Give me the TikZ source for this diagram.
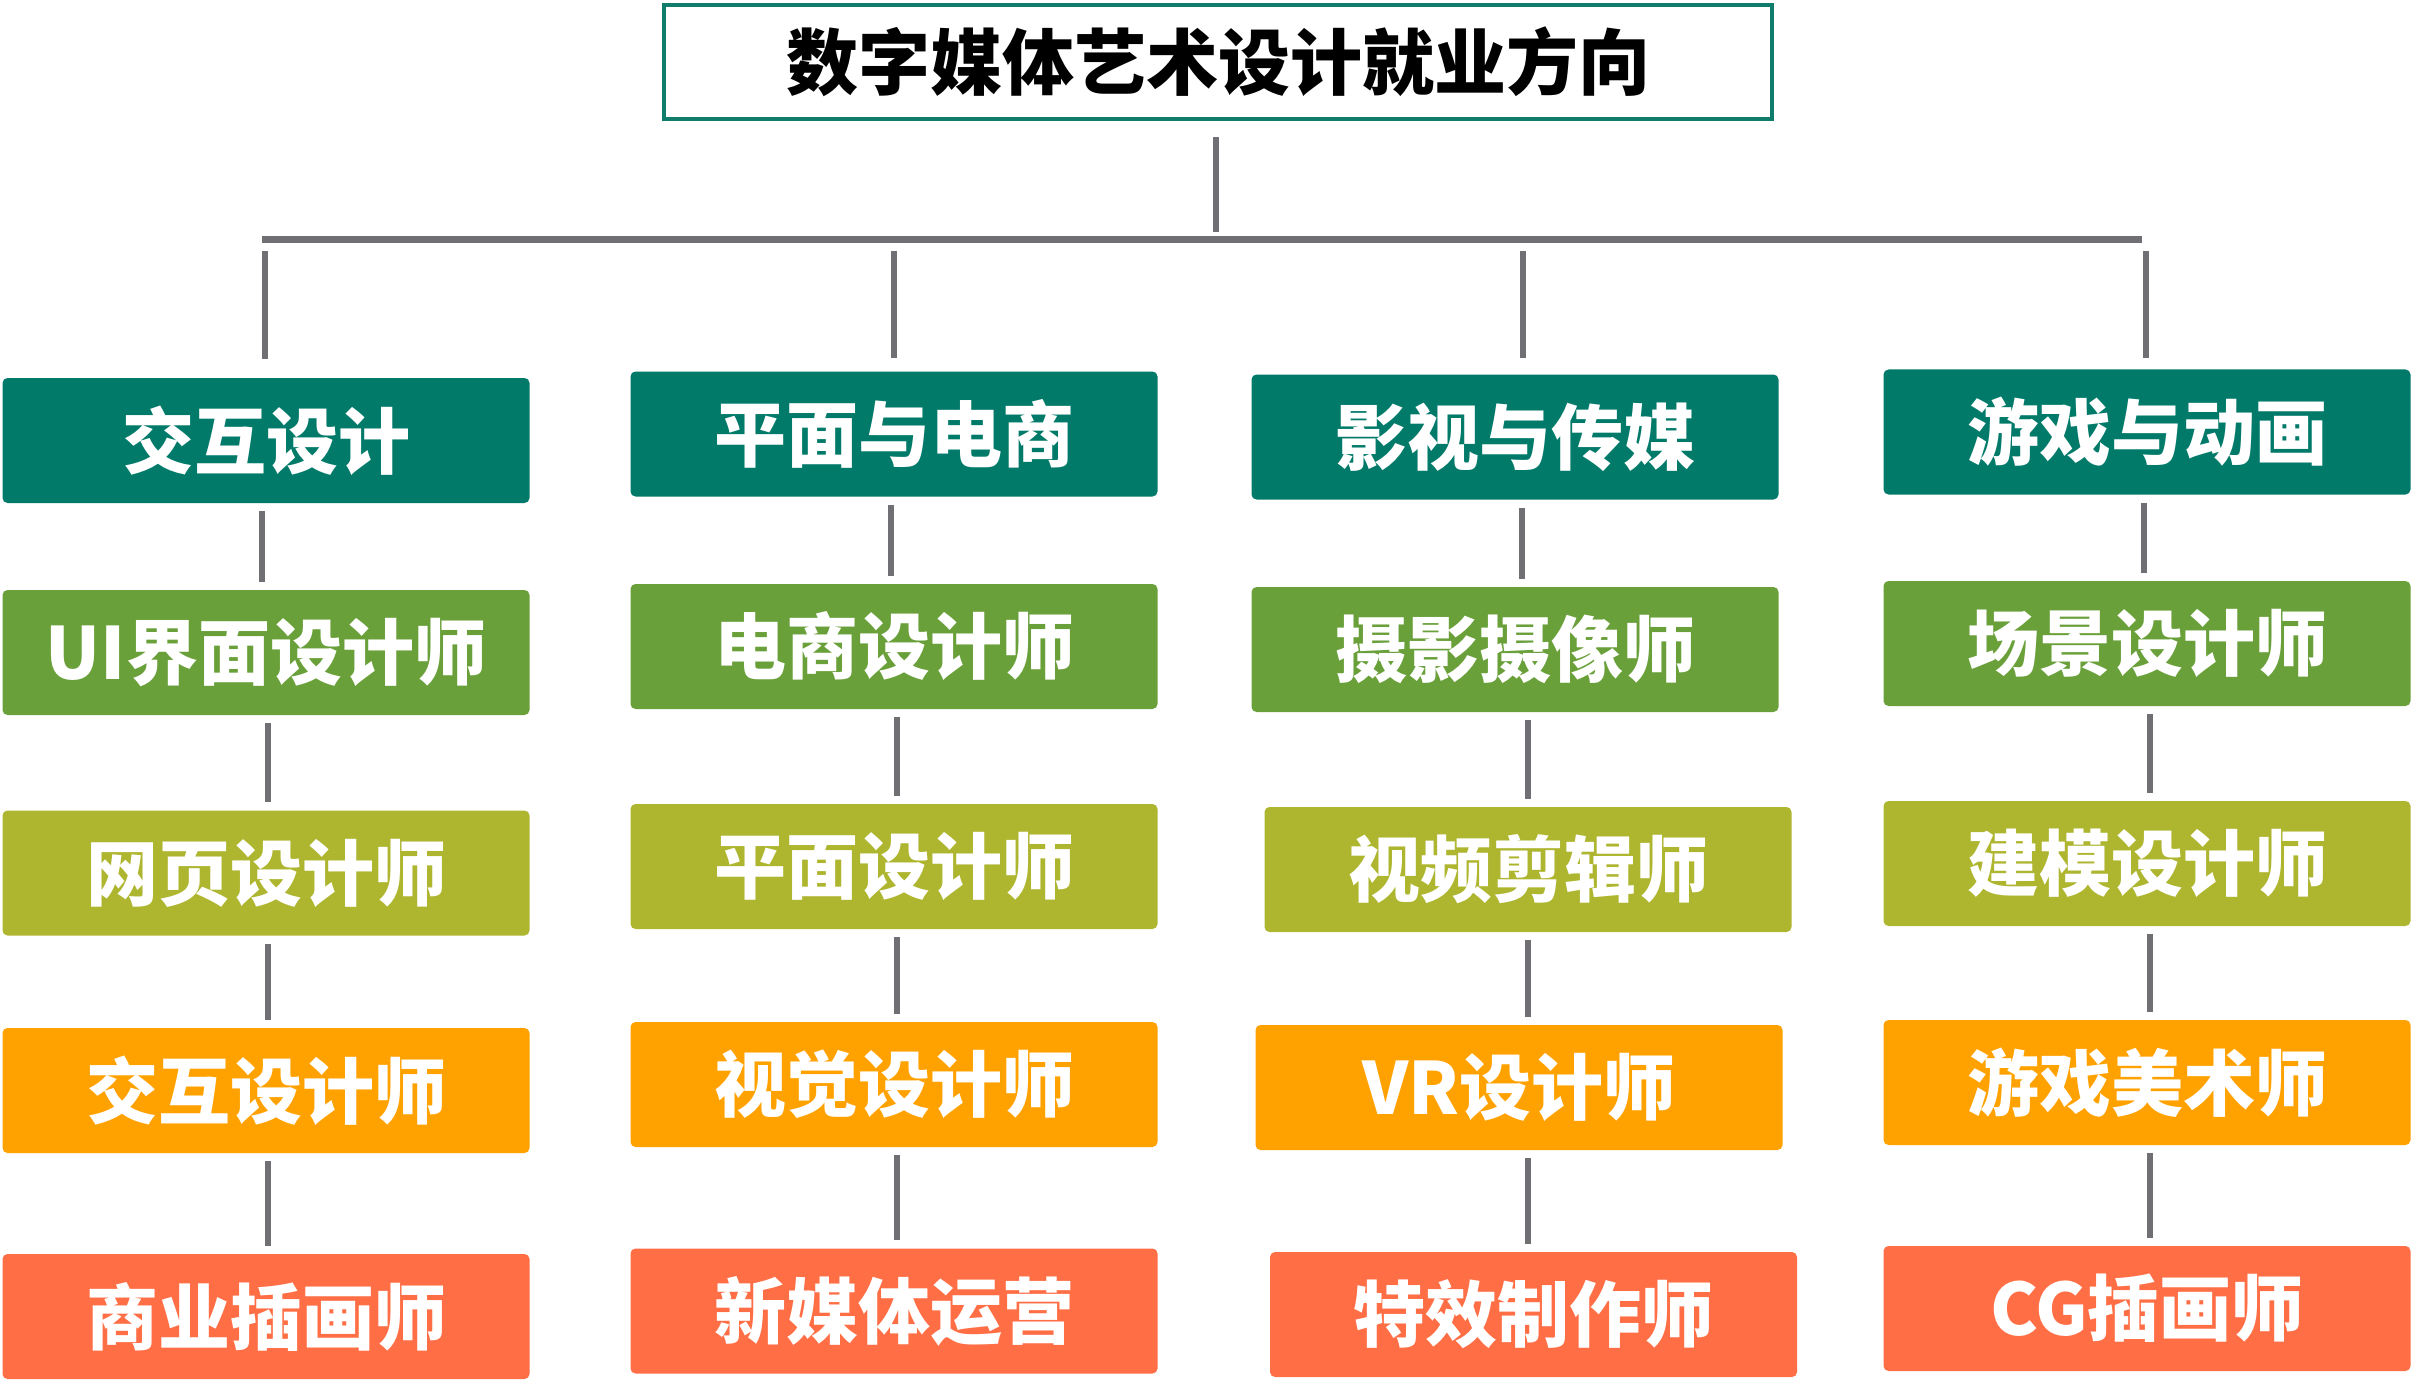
\documentclass[tikz,border=0pt]{standalone}
\usepackage{fontspec}
\newfontfamily\cjk{Noto Sans CJK SC}
\definecolor{cTeal}{RGB}{2,122,106}
\definecolor{cGreen}{RGB}{106,160,58}
\definecolor{cOlive}{RGB}{174,181,46}
\definecolor{cOrange}{RGB}{255,162,0}
\definecolor{cCoral}{RGB}{255,110,69}
\definecolor{cLine}{RGB}{112,112,116}
\definecolor{cBorder}{RGB}{16,124,108}
\tikzset{
  box/.style={rectangle, rounded corners=5pt, inner sep=0pt,
    minimum width=527pt, minimum height=125pt, text=white,
    font=\cjk\bfseries\fontsize{72pt}{72pt}\selectfont},
  lvA/.style={box, fill=cTeal},
  lvB/.style={box, fill=cGreen},
  lvC/.style={box, fill=cOlive},
  lvD/.style={box, fill=cOrange},
  lvE/.style={box, fill=cCoral},
  titlebox/.style={rectangle, draw=cBorder, line width=4.5pt, fill=white,
    inner sep=0pt, minimum width=1108pt, minimum height=114pt, text=black,
    font=\cjk\bfseries\fontsize{72pt}{72pt}\selectfont},
  conn/.style={draw=cLine, line width=6.5pt, shorten <=8pt, shorten >=8pt},
  bus/.style={draw=cLine, line width=7pt}
}
\begin{document}
\begin{tikzpicture}[x=1pt,y=-1pt]
\useasboundingbox (0,0) rectangle (2413,1380);

% title
\node[titlebox] (title) at (1218,62) {数字媒体艺术设计就业方向};

% column 1
\node[lvA] (r1c1) at (266,440.5) {交互设计};
\node[lvB] (r2c1) at (266,652.5) {UI界面设计师};
\node[lvC] (r3c1) at (266,873) {网页设计师};
\node[lvD] (r4c1) at (266,1090.5) {交互设计师};
\node[lvE] (r5c1) at (266,1316.5) {商业插画师};
% column 2
\node[lvA] (r1c2) at (894,434) {平面与电商};
\node[lvB] (r2c2) at (894,646.5) {电商设计师};
\node[lvC] (r3c2) at (894,866.5) {平面设计师};
\node[lvD] (r4c2) at (894,1084.5) {视觉设计师};
\node[lvE] (r5c2) at (894,1311) {新媒体运营};
% column 3
\node[lvA] (r1c3) at (1515,437) {影视与传媒};
\node[lvB] (r2c3) at (1515,649.5) {摄影摄像师};
\node[lvC] (r3c3) at (1528,869.5) {视频剪辑师};
\node[lvD] (r4c3) at (1519,1087.5) {VR设计师};
\node[lvE] (r5c3) at (1533.5,1314.5) {特效制作师};
% column 4
\node[lvA] (r1c4) at (2147,432) {游戏与动画};
\node[lvB] (r2c4) at (2147,643.5) {场景设计师};
\node[lvC] (r3c4) at (2147,863.5) {建模设计师};
\node[lvD] (r4c4) at (2147,1082.5) {游戏美术师};
\node[lvE] (r5c4) at (2147,1308.5) {CG插画师};

% bus
\coordinate (busL) at (262,240);
\coordinate (busR) at (2142,240);
\coordinate (busT) at (1216,240);
\coordinate (b1) at (265,240);
\coordinate (b2) at (894,240);
\coordinate (b3) at (1523,240);
\coordinate (b4) at (2146,240);
\draw[bus] (busL) -- (busR);
\draw[conn, shorten <=16pt, shorten >=8pt] (title.south -| busT) -- (busT);
\draw[conn, shorten <=11pt, shorten >=19pt] (b1) -- (r1c1.north -| b1);
\draw[conn, shorten <=11pt, shorten >=13pt] (b2) -- (r1c2.north -| b2);
\draw[conn, shorten <=11pt, shorten >=16pt] (b3) -- (r1c3.north -| b3);
\draw[conn, shorten <=11pt, shorten >=11pt] (b4) -- (r1c4.north -| b4);

% column connectors
\coordinate (x1a) at (262,0); \coordinate (x1b) at (268,0);
\coordinate (x2a) at (891,0); \coordinate (x2b) at (897,0);
\coordinate (x3a) at (1522,0); \coordinate (x3b) at (1528,0);
\coordinate (x4a) at (2144,0); \coordinate (x4b) at (2150,0);

\draw[conn] (r1c1.south -| x1a) -- (r2c1.north -| x1a);
\draw[conn] (r2c1.south -| x1b) -- (r3c1.north -| x1b);
\draw[conn] (r3c1.south -| x1b) -- (r4c1.north -| x1b);
\draw[conn] (r4c1.south -| x1b) -- (r5c1.north -| x1b);

\draw[conn] (r1c2.south -| x2a) -- (r2c2.north -| x2a);
\draw[conn] (r2c2.south -| x2b) -- (r3c2.north -| x2b);
\draw[conn] (r3c2.south -| x2b) -- (r4c2.north -| x2b);
\draw[conn] (r4c2.south -| x2b) -- (r5c2.north -| x2b);

\draw[conn] (r1c3.south -| x3a) -- (r2c3.north -| x3a);
\draw[conn] (r2c3.south -| x3b) -- (r3c3.north -| x3b);
\draw[conn] (r3c3.south -| x3b) -- (r4c3.north -| x3b);
\draw[conn] (r4c3.south -| x3b) -- (r5c3.north -| x3b);

\draw[conn] (r1c4.south -| x4a) -- (r2c4.north -| x4a);
\draw[conn] (r2c4.south -| x4b) -- (r3c4.north -| x4b);
\draw[conn] (r3c4.south -| x4b) -- (r4c4.north -| x4b);
\draw[conn] (r4c4.south -| x4b) -- (r5c4.north -| x4b);
\end{tikzpicture}
\end{document}
